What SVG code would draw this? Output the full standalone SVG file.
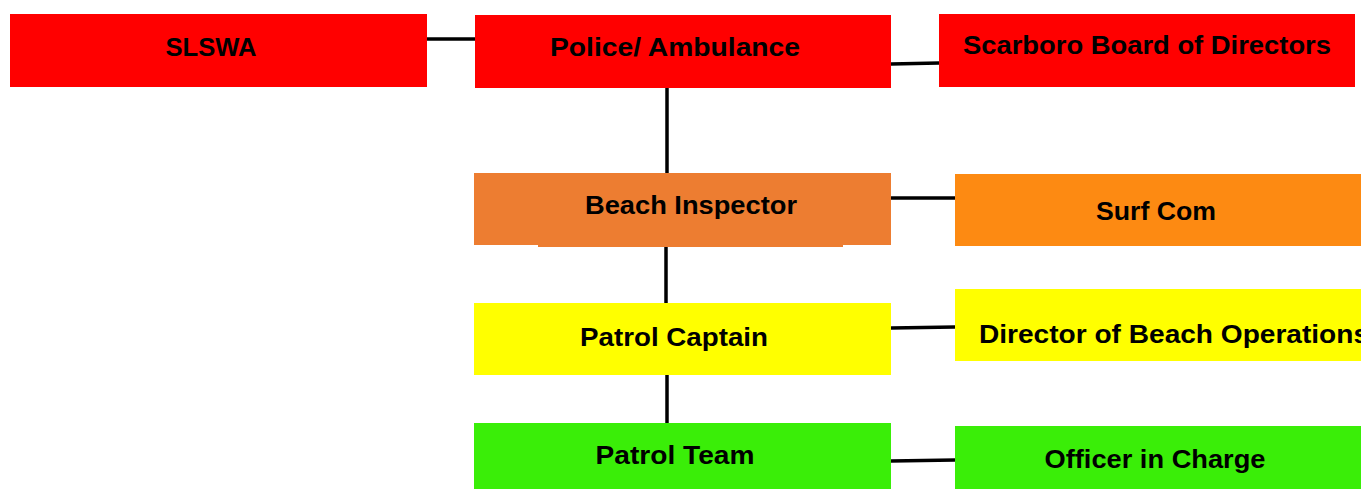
<svg xmlns="http://www.w3.org/2000/svg" width="1361" height="489" viewBox="0 0 1361 489">
<style>
text{font-family:"Liberation Sans",Arial,sans-serif;font-weight:bold;font-size:26px;fill:#000;}
.c{text-anchor:middle;}
.ln{stroke:#000;stroke-width:3.5;fill:none;}
.red{fill:#FF0000;}.org{fill:#ED7D31;}.org2{fill:#FD8A12;}.yel{fill:#FFFF00;}.grn{fill:#3AEE08;}
</style>
<rect width="1361" height="489" fill="#fff"/>
<g id="connectors">
<line class="ln" x1="427" y1="39" x2="475" y2="39"/>
<line class="ln" x1="891" y1="64" x2="939" y2="63"/>
<line class="ln" x1="667" y1="88" x2="667" y2="183"/>
<line class="ln" x1="891" y1="198" x2="955" y2="198"/>
<line class="ln" x1="666" y1="245" x2="666" y2="310"/>
<line class="ln" x1="891" y1="328" x2="955" y2="327"/>
<line class="ln" x1="667" y1="375" x2="667" y2="431"/>
<line class="ln" x1="891" y1="461" x2="955" y2="460"/>
</g>
<g id="slswa"><rect class="red" x="10" y="14" width="417" height="73"/><text class="c" x="211" y="56" textLength="91" lengthAdjust="spacingAndGlyphs">SLSWA</text></g>
<g id="police"><rect class="red" x="475" y="15" width="416" height="73"/><text class="c" x="675" y="56" textLength="250" lengthAdjust="spacingAndGlyphs">Police/ Ambulance</text></g>
<g id="scarboro"><rect class="red" x="939" y="14" width="416" height="73"/><text class="c" x="1147" y="54" textLength="368" lengthAdjust="spacingAndGlyphs">Scarboro Board of Directors</text></g>
<g id="beach-inspector"><rect class="org" x="474" y="173" width="417" height="72"/><rect class="org" x="538" y="244" width="305" height="3"/><text class="c" x="691" y="214" textLength="212" lengthAdjust="spacingAndGlyphs">Beach Inspector</text></g>
<g id="surf-com"><rect class="org2" x="955" y="174" width="406" height="72"/><text class="c" x="1156" y="220" textLength="120" lengthAdjust="spacingAndGlyphs">Surf Com</text></g>
<g id="patrol-captain"><rect class="yel" x="474" y="303" width="417" height="72"/><text class="c" x="674" y="346" textLength="188" lengthAdjust="spacingAndGlyphs">Patrol Captain</text></g>
<g id="director-beach-ops"><rect class="yel" x="955" y="289" width="406" height="72"/><text x="979" y="343" textLength="390" lengthAdjust="spacingAndGlyphs">Director of Beach Operations</text></g>
<g id="patrol-team"><rect class="grn" x="474" y="423" width="417" height="66"/><text class="c" x="675" y="464" textLength="159" lengthAdjust="spacingAndGlyphs">Patrol Team</text></g>
<g id="officer-in-charge"><rect class="grn" x="955" y="426" width="406" height="63"/><text class="c" x="1155" y="468" textLength="221" lengthAdjust="spacingAndGlyphs">Officer in Charge</text></g>
</svg>
